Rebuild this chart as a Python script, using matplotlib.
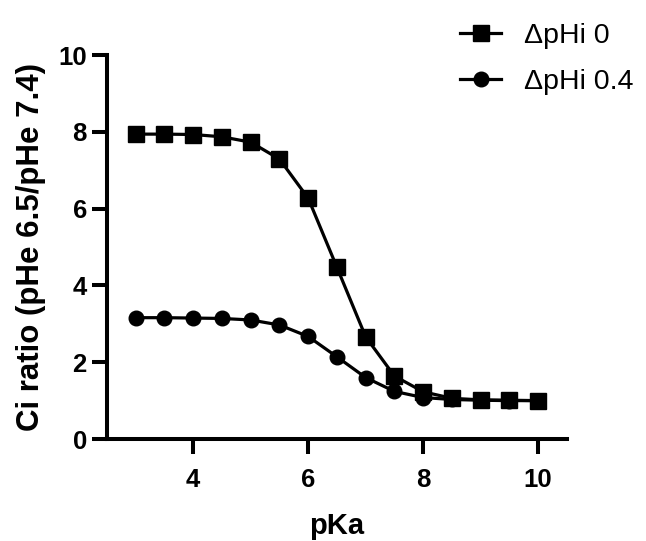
import matplotlib
matplotlib.use('Agg')
import matplotlib.pyplot as plt

plt.rcParams['font.family'] = ['Liberation Sans', 'DejaVu Sans']

# data
pka = [3, 3.5, 4, 4.5, 5, 5.5, 6, 6.5, 7, 7.5, 8, 8.5, 9, 9.5, 10]
ratio_dphi0 = [7.94, 7.94, 7.93, 7.87, 7.73, 7.29, 6.27, 4.47, 2.66, 1.64, 1.23, 1.06, 1.02, 1.01, 1.0]
ratio_dphi04 = [3.16, 3.16, 3.15, 3.14, 3.10, 2.97, 2.67, 2.14, 1.60, 1.24, 1.08, 1.03, 1.01, 1.0, 1.0]

fig = plt.figure(figsize=(6.46, 5.41), dpi=100)
ax = fig.add_axes([0.1656, 0.1885, 0.712, 0.7098])

ax.plot(pka, ratio_dphi0, color='black', linewidth=2.3, marker='s', markersize=11.5,
        label='ΔpHi 0', clip_on=False)
ax.plot(pka, ratio_dphi04, color='black', linewidth=2.3, marker='o', markersize=10.5,
        label='ΔpHi 0.4', clip_on=False)

ax.set_xlim(2.5, 10.5)
ax.set_ylim(0, 10)
ax.set_xticks([4, 6, 8, 10])
ax.set_yticks([0, 2, 4, 6, 8, 10])

for side in ['top', 'right']:
    ax.spines[side].set_visible(False)
for side in ['left', 'bottom']:
    ax.spines[side].set_linewidth(2.9)

ax.tick_params(axis='both', width=2.9, length=11, labelsize=18.5)
ax.tick_params(axis='y', pad=3.5)
ax.tick_params(axis='x', pad=10)
for lab in ax.get_xticklabels() + ax.get_yticklabels():
    lab.set_fontweight('bold')

ax.set_xlabel('pKa', fontsize=21, fontweight='bold', labelpad=14)
ax.set_ylabel('Ci ratio (pHe 6.5/pHe 7.4)', fontsize=22.5, fontweight='bold', labelpad=9)

fig.legend(loc='upper left', bbox_to_anchor=(0.712, 0.958), frameon=False,
           fontsize=20.5, handlelength=1.45, handletextpad=0.8, labelspacing=0.72,
           borderpad=0, borderaxespad=0)

plt.savefig('out.png', dpi=100)
